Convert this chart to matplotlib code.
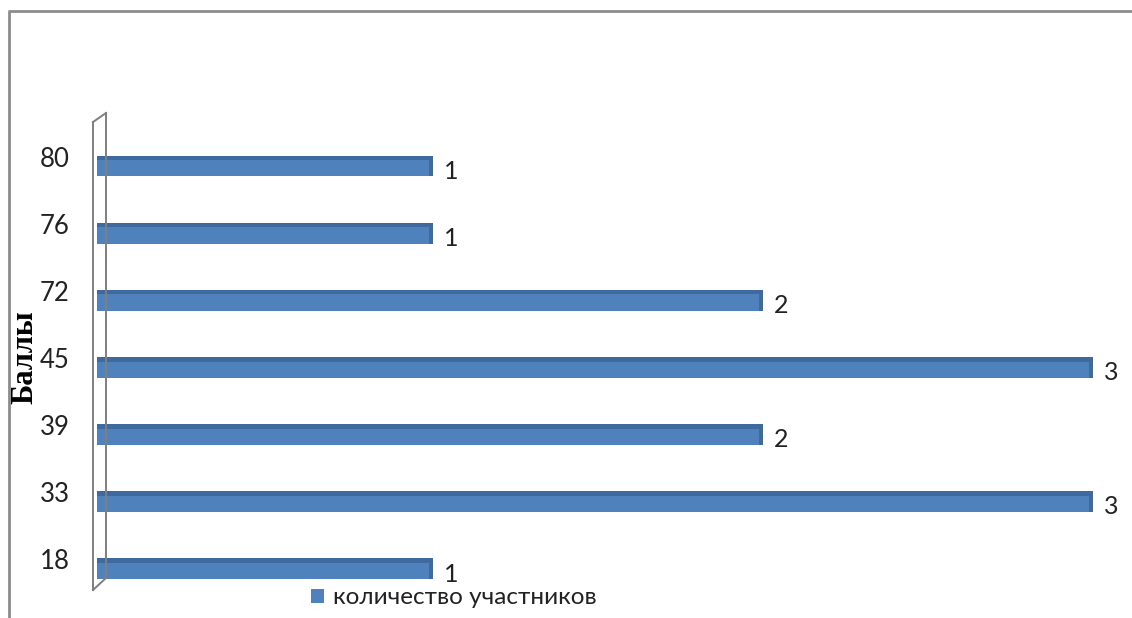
import matplotlib
matplotlib.use("Agg")
import matplotlib.pyplot as plt
import matplotlib.transforms as mtransforms
from matplotlib.lines import Line2D

categories = ["18", "33", "39", "45", "72", "76", "80"]
values = [1, 3, 2, 3, 2, 1, 1]
series_name = "количество участников"
axis_title = "Баллы"

W, H = 1132, 618
fig = plt.figure(figsize=(W / 100, H / 100), dpi=100)

def fx(px):
    return px / W

def fy(py):
    return 1 - py / H

# outer chart border: left edge and top edge
fig.add_artist(Line2D([fx(9), fx(9)], [fy(618), fy(11)],
                      transform=fig.transFigure, color="#8c8c8c", lw=2,
                      solid_capstyle="butt"))
fig.add_artist(Line2D([fx(8), fx(1132)], [fy(11), fy(11)],
                      transform=fig.transFigure, color="#8c8c8c", lw=2,
                      solid_capstyle="butt"))

# 3D wall of the category axis
wall_col = "#7f7f7f"
for xs, ys in [([93, 93], [122, 590]), ([106, 106], [113, 578]),
               ([93, 106], [122, 113]), ([93, 106], [590, 578])]:
    fig.add_artist(Line2D([fx(x) for x in xs], [fy(y) for y in ys],
                          transform=fig.transFigure, color=wall_col, lw=1.4))

ax = fig.add_axes([fx(103), fy(602), fx(1093) - fx(103), (602 - 132.5) / H])
ax.set_xlim(0, 3)
ax.set_ylim(-0.5, len(categories) - 0.5)
ax.patch.set_alpha(0)
for s in ax.spines.values():
    s.set_visible(False)
ax.set_xticks([])

idx = list(range(len(categories)))
bh = 0.31
start = -0.018
main = ax.barh(idx, [v - start for v in values], height=bh, left=start,
               color="#4F81BD", linewidth=0, label=series_name, zorder=2)
top = ax.barh([i + bh / 2 - 0.035 for i in idx], [v - start for v in values],
              height=0.07, left=start, color="#3F6A9F", linewidth=0, zorder=3)
cap = ax.barh(idx, [0.012] * len(values), left=[v - 0.012 for v in values],
              height=bh, color="#3F6A9F", linewidth=0, zorder=3)
for cont in (main, top, cap):
    for p in cont:
        p.set_clip_on(False)

ax.set_yticks(idx, categories)
ax.tick_params(axis="y", length=0, pad=24, labelsize=18.5)
offset = mtransforms.ScaledTranslation(0, 9 / 100, fig.dpi_scale_trans)
for lbl in ax.get_yticklabels():
    lbl.set_fontfamily("Lato")
    lbl.set_color("#222222")
    lbl.set_transform(lbl.get_transform() + offset)

for i, v in zip(idx, values):
    ax.annotate(str(v), (v, i), xytext=(8, -4), textcoords="offset points",
                ha="left", va="center", fontsize=18, family="Lato",
                color="#222222", annotation_clip=False)

fig.text(fx(25), fy(357), axis_title, rotation=90, ha="center", va="center",
         fontsize=22, fontweight="bold", family="Liberation Serif", color="black")

leg = fig.legend(*ax.get_legend_handles_labels(), loc="center left",
                 bbox_to_anchor=(fx(311), fy(598)), frameon=False,
                 handlelength=0.55, handleheight=0.55,
                 handletextpad=0.35, borderaxespad=0, borderpad=0,
                 prop={"family": "Lato", "size": 17.5})
for t in leg.get_texts():
    t.set_color("#222222")

fig.savefig("out.png", dpi=100)
